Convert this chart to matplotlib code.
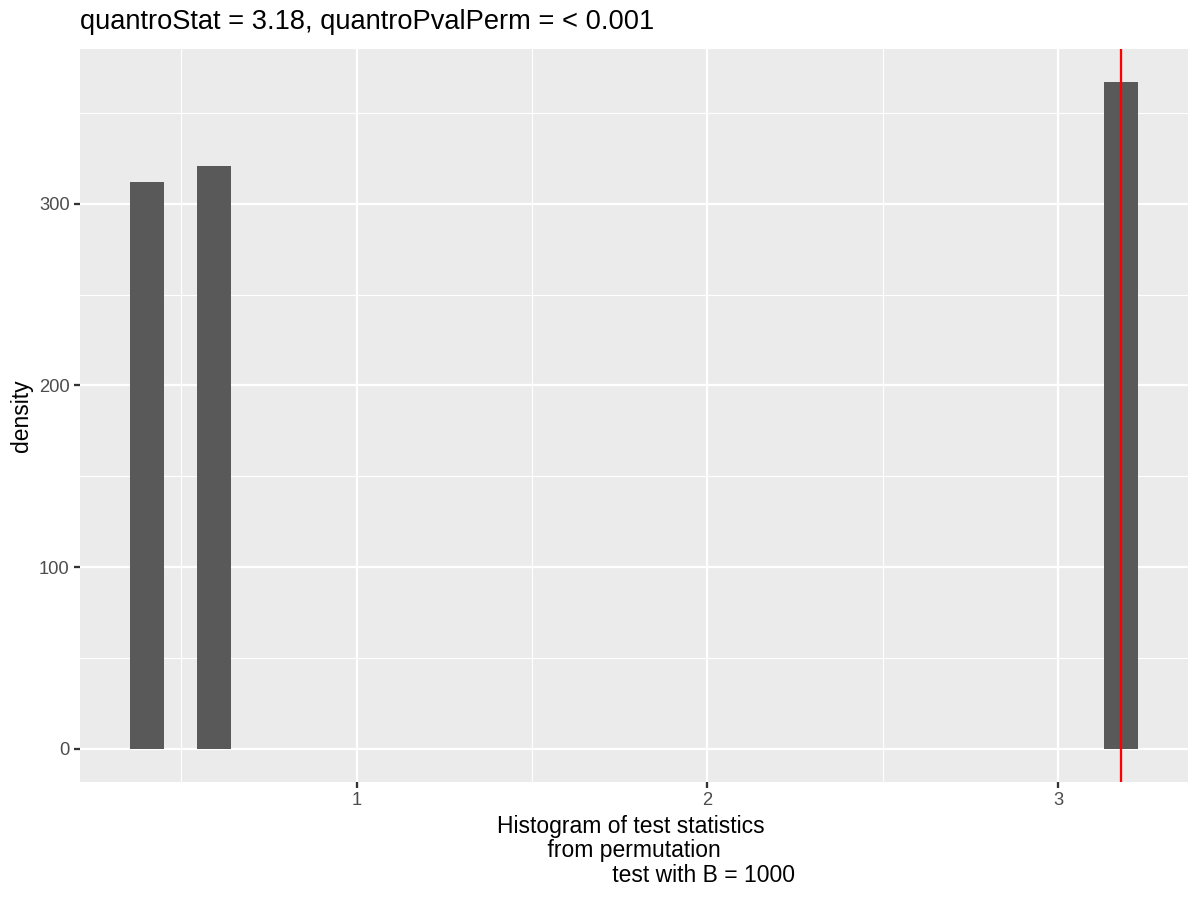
import matplotlib
matplotlib.use("Agg")
import matplotlib.pyplot as plt
from matplotlib.ticker import MultipleLocator

plt.rcParams["font.family"] = ["Liberation Sans", "DejaVu Sans"]

# histogram bins that hold data (left edge, density)
bin_lefts = [0.355, 0.546, 3.131]
bin_width = 0.0957
densities = [312.0, 320.8, 366.9]
quantro_stat = 3.18

title = "quantroStat = 3.18, quantroPvalPerm = < 0.001"
xlabel = ("Histogram of test statistics \n from permutation \n"
          + " " * 22 + "test with B = 1000")
ylabel = "density"

x_ticks = [1, 2, 3]
y_ticks = [0, 100, 200, 300]

fig = plt.figure(figsize=(8, 6), dpi=150)
ax = fig.add_axes([80 / 1200, 1 - 782 / 900, 1108 / 1200, 733 / 900])

ax.set_facecolor("#EBEBEB")
for side in ax.spines.values():
    side.set_visible(False)

ax.bar(bin_lefts, densities, width=bin_width, align="edge",
       color="#595959", zorder=3, linewidth=0)
ax.axvline(quantro_stat, color="#FF0000", linewidth=1.1, zorder=4)

lo = min(bin_lefts)
hi = max(bin_lefts) + bin_width
pad = 0.05 * (hi - lo)
ax.set_xlim(lo - pad, hi + pad)
ymax = max(densities)
ax.set_ylim(-0.05 * ymax, 1.05 * ymax)

ax.set_xticks(x_ticks)
ax.set_yticks(y_ticks)
ax.xaxis.set_minor_locator(MultipleLocator(0.5))
ax.yaxis.set_minor_locator(MultipleLocator(50))
ax.grid(which="major", color="white", linewidth=1.1, zorder=1)
ax.grid(which="minor", color="white", linewidth=0.55, zorder=1)
ax.set_axisbelow(True)

ax.tick_params(which="major", length=2.75, width=1.1, color="#333333",
               labelcolor="#4D4D4D", labelsize=8.8, pad=2.2)
ax.tick_params(which="minor", length=0)

ax.set_title(title, loc="left", fontsize=13.1, pad=9.5, color="black")
ax.set_xlabel(xlabel, fontsize=11, labelpad=2.75, linespacing=1.07)
ax.set_ylabel(ylabel, fontsize=11, labelpad=3)

fig.savefig("out.png", dpi=150, facecolor="white")
